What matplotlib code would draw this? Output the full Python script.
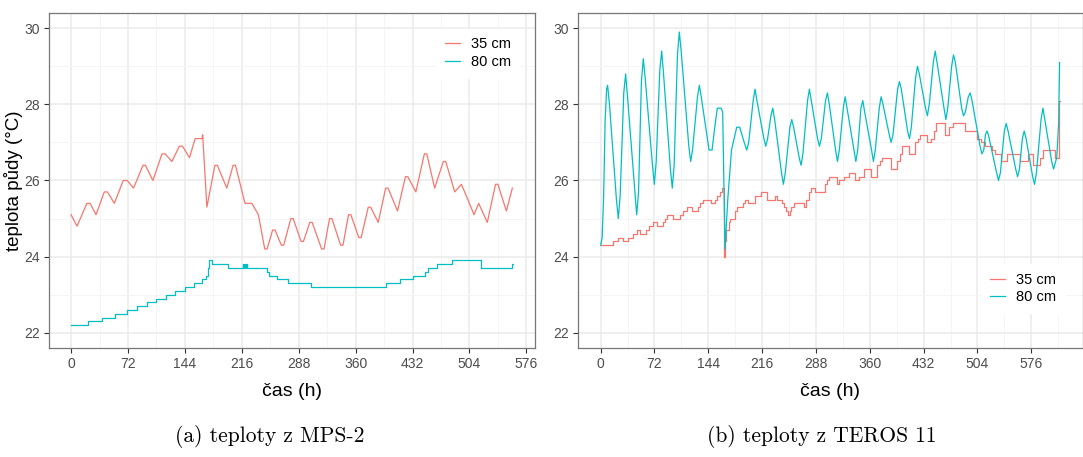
import matplotlib
matplotlib.use("Agg")
import matplotlib.pyplot as plt

plt.rcParams["font.family"] = ["Liberation Sans", "DejaVu Sans"]

RED = "#F8766D"
TEAL = "#00BFC4"

# (a) MPS-2 -- 35 cm, daily oscillation (hours, degC)
MPS_T35 = [0, 7.5, 20, 24, 31.5, 42, 46, 54.7, 66, 71, 79, 91, 94, 103.5, 115, 119,
           127.5, 137, 141, 149.8, 157, 165.6, 166.5, 171.8, 182, 185, 197, 205, 208,
           220, 228.7, 237, 245, 248, 255, 258, 266, 269, 278, 281, 291, 294, 302, 305,
           317, 320, 327, 330, 341, 344, 351, 354, 364, 367, 376, 379, 388.6, 398, 401,
           413, 423, 426, 436.2, 447, 450, 460, 471, 474, 485.4, 493.8, 502, 509.8,
           515.7, 526.6, 537, 540, 550.7, 558.3]
MPS_V35 = [25.1, 24.8, 25.4, 25.4, 25.1, 25.7, 25.7, 25.4, 26.0, 26.0, 25.8, 26.4, 26.4,
           26.0, 26.7, 26.7, 26.5, 26.9, 26.9, 26.6, 27.1, 27.1, 27.2, 25.3, 26.4, 26.4,
           25.8, 26.4, 26.4, 25.4, 25.4, 25.1, 24.2, 24.2, 24.7, 24.7, 24.3, 24.3, 25.0,
           25.0, 24.4, 24.4, 24.9, 24.9, 24.2, 24.2, 25.0, 25.0, 24.3, 24.3, 25.1, 25.1,
           24.5, 24.5, 25.3, 25.3, 24.9, 25.8, 25.8, 25.2, 26.1, 26.1, 25.7, 26.7, 26.7,
           25.8, 26.5, 26.5, 25.7, 25.9, 25.5, 25.1, 25.4, 24.9, 25.9, 25.9, 25.2, 25.8]

# (a) MPS-2 -- 80 cm, stepwise (value holds from given hour)
MPS_T80 = [0, 21.5, 39.1, 55, 70.7, 83.3, 96, 107.7, 120.4, 131.7, 143.5, 154.9, 165.4,
           171, 173, 175, 178.9, 199, 217, 218, 219, 220, 221, 222, 247.5, 251, 260.2,
           274, 303, 399, 416, 432.7, 447.5, 451.7, 463.5, 482, 518.2, 557.5, 559]
MPS_V80 = [22.2, 22.3, 22.4, 22.5, 22.6, 22.7, 22.8, 22.9, 23.0, 23.1, 23.2, 23.3, 23.4,
           23.5, 23.7, 23.9, 23.8, 23.7, 23.8, 23.7, 23.8, 23.7, 23.8, 23.7, 23.6, 23.5,
           23.4, 23.3, 23.2, 23.3, 23.4, 23.5, 23.6, 23.7, 23.8, 23.9, 23.7, 23.8, 23.8]

# (b) TEROS 11 -- 35 cm, stepwise
TER_T35 = [0, 16, 22.7, 30.3, 37, 43.7, 48, 52.6, 61, 64, 70, 76, 84, 86, 89, 97, 106,
           110.6, 116, 122, 130, 133, 137, 148, 153, 155, 159, 162, 165, 166.5, 168,
           171, 173, 180, 182, 190, 193, 197, 206, 214, 223, 233, 236, 242, 245, 248,
           250, 253, 255, 258, 272, 275, 278, 281, 287, 300, 303, 305, 316, 319, 326,
           332, 340, 346, 352, 362, 370, 373, 376, 388, 396, 400, 403, 412, 420, 424,
           427, 436, 442, 446, 449, 461, 466, 471, 474, 487, 504, 509, 514, 523, 528,
           535, 543, 561, 571, 578, 588, 592, 607, 613, 613.8]
TER_V35 = [24.3, 24.4, 24.5, 24.4, 24.5, 24.6, 24.7, 24.6, 24.7, 24.8, 24.9, 24.8, 24.9,
           25.0, 25.1, 25.0, 25.1, 25.2, 25.3, 25.2, 25.3, 25.4, 25.5, 25.4, 25.5, 25.6,
           25.7, 25.8, 24.0, 24.4, 24.7, 24.9, 25.0, 25.2, 25.3, 25.4, 25.5, 25.4, 25.6,
           25.7, 25.5, 25.6, 25.5, 25.4, 25.3, 25.2, 25.1, 25.2, 25.3, 25.4, 25.3, 25.5,
           25.7, 25.8, 25.7, 25.9, 26.0, 26.1, 25.9, 26.0, 26.1, 26.2, 26.0, 26.1, 26.3,
           26.1, 26.4, 26.5, 26.6, 26.3, 26.5, 26.7, 26.9, 26.7, 27.0, 27.1, 27.2, 27.0,
           27.1, 27.3, 27.5, 27.2, 27.4, 27.5, 27.5, 27.3, 27.1, 27.0, 26.9, 26.8, 26.7,
           26.5, 26.7, 26.5, 26.7, 26.4, 26.6, 26.8, 26.6, 28.1, 28.1]

# (b) TEROS 11 -- 80 cm, daily oscillation (with rounded tops)
TER_T80 = [0, 2, 4, 6, 8, 9.3, 11.8,
           21.1, 23.6, 26.1, 30.9, 33.4, 35.9, 45.7, 48.2, 50.7, 54.5, 57, 59.5,
           69.3, 71.8, 74.3, 79.1, 81.6, 84.1, 93.3, 95.8, 98.3, 102.7, 105.2, 107.7,
           117.9, 120.4, 122.9, 129.5, 132, 134.5, 145, 149, 152, 156, 161, 163.2, 166.3,
           170, 175, 182, 186, 192, 195.4, 198, 204, 206.5, 209, 218.3, 220.8, 223.3,
           227.7, 230.2, 232.7, 241.9, 244.4, 246.9, 253.1, 255.6, 258.1, 265.5, 268,
           270.5, 276.7, 279.2, 281.7, 290.1, 292.6, 295.1, 300.8, 303.3, 305.8, 314.2,
           316.7, 319.2, 324.5, 327, 329.5, 338.8, 341.3, 343.8, 348.1, 350.6, 353.1,
           362.3, 364.8, 367.3, 372.6, 375.1, 377.6, 386, 388.5, 391, 397.1, 399.6,
           402.1, 410.5, 413, 415.5, 421.2, 423.7, 426.2, 434.5, 437, 439.5, 444.9,
           447.4, 449.9, 459.2, 461.7, 464.2, 469.4, 471.9, 474.4, 482.8, 485.3, 487.8,
           491.7, 494.2, 496.7, 507.4, 509.9, 512.4, 514.6, 516.6, 518.6, 529.6, 532.1,
           534.6, 539.9, 542.4, 544.9, 555.1, 557.6, 560.1, 564, 566.5, 569, 577.8,
           580.3, 582.8, 589, 591.5, 594, 603.2, 605.7, 610, 612.5, 613.8]
TER_V80 = [24.3, 24.5, 25.6, 27.6, 28.4, 28.5, 28.0,
           25.5, 25.0, 25.6, 28.3, 28.8, 28.2, 25.7, 25.1, 25.7, 28.6, 29.2, 28.7,
           26.4, 25.9, 26.5, 28.9, 29.4, 28.8, 26.3, 25.8, 26.4, 29.3, 29.9, 29.4,
           26.9, 26.5, 26.8, 28.2, 28.5, 28.2, 26.8, 26.8, 27.3, 27.9, 27.9, 27.8, 24.2,
           25.5, 26.8, 27.4, 27.4, 27.0, 26.8, 27.0, 28.1, 28.4, 28.1, 27.1, 26.9, 27.1,
           27.7, 27.9, 27.6, 26.2, 25.9, 26.2, 27.4, 27.6, 27.4, 26.6, 26.4,
           26.7, 28.1, 28.4, 28.1, 27.1, 26.9, 27.1, 28.1, 28.3, 28.0, 26.8,
           26.5, 26.8, 27.9, 28.2, 27.9, 26.8, 26.5, 26.8, 27.9, 28.1, 27.8,
           26.8, 26.5, 26.8, 27.9, 28.2, 28.0, 27.2, 27.0, 27.2, 28.4, 28.6,
           28.4, 27.3, 27.1, 27.4, 28.7, 29.0, 28.8, 27.9, 27.7, 28.0, 29.1,
           29.4, 29.1, 27.9, 27.6, 27.9, 29.0, 29.3, 29.1, 27.9, 27.7, 27.8,
           28.2, 28.3, 28.1, 26.9, 26.7, 26.8, 27.2, 27.3, 27.2, 26.2, 26.0,
           26.2, 27.3, 27.5, 27.3, 26.3, 26.1, 26.3, 27.1, 27.3, 27.1, 26.1,
           25.9, 26.2, 27.6, 27.9, 27.6, 26.5, 26.3, 26.6, 27.5, 29.1]

LABELS = ["35 cm", "80 cm"]
X_TICKS = [0, 72, 144, 216, 288, 360, 432, 504, 576]
Y_TICKS = [22, 24, 26, 28, 30]
CAPTIONS = ["(a) teploty z MPS-2", "(b) teploty z TEROS 11"]


def style_axes(ax, tmax, xticks):
    pad = 0.05 * tmax
    ax.set_xlim(-pad, tmax + pad)
    ax.set_ylim(21.6, 30.4)
    ax.set_xticks(xticks)
    ax.set_yticks(Y_TICKS)
    ax.set_xticks([t + 36 for t in xticks if t + 36 < tmax + pad], minor=True)
    ax.set_yticks([23, 25, 27, 29], minor=True)
    ax.grid(True, which="major", color="#EBEBEB", lw=1.1)
    ax.grid(True, which="minor", color="#F4F4F4", lw=0.6)
    ax.set_axisbelow(True)
    ax.tick_params(which="major", direction="out", length=3.5, width=0.8,
                   color="#333333", labelcolor="#4D4D4D", labelsize=10, pad=3)
    ax.tick_params(which="minor", length=0)
    for s in ax.spines.values():
        s.set_color("#777777")
        s.set_linewidth(0.9)


def add_legend(ax, anchor):
    ax.legend(loc="upper left", bbox_to_anchor=anchor, frameon=True,
              fontsize=10.5, handlelength=1.0, handletextpad=0.75, labelspacing=0.25,
              borderpad=0.6, borderaxespad=0, fancybox=False, edgecolor="white",
              framealpha=1)


fig = plt.figure(figsize=(10.83, 4.57), dpi=100)
W, H = 1083, 457

ax1 = fig.add_axes([49 / W, 1 - 348 / H, 486 / W, 335 / H])
ax1.plot(MPS_T35, MPS_V35, color=RED, lw=0.9, label=LABELS[0])
ax1.plot(MPS_T80, MPS_V80, color=TEAL, lw=0.9, drawstyle="steps-post", label=LABELS[1])
style_axes(ax1, 559, X_TICKS)
add_legend(ax1, (0.797, 0.953))

ax2 = fig.add_axes([577.7 / W, 1 - 348 / H, 505 / W, 335 / H])
ax2.plot(TER_T35, TER_V35, color=RED, lw=0.9, drawstyle="steps-post", label=LABELS[0])
ax2.plot(TER_T80, TER_V80, color=TEAL, lw=0.9, label=LABELS[1])
style_axes(ax2, 614, X_TICKS)
add_legend(ax2, (0.8, 0.251))

fig.text(14 / W, 1 - 180.5 / H, "teplota půdy (°C)", rotation=90, ha="center",
         va="center", fontsize=13.5)
fig.text(292 / W, 1 - 392 / H, "čas (h)", ha="center", va="center", fontsize=14)
fig.text(830 / W, 1 - 392 / H, "čas (h)", ha="center", va="center", fontsize=14)

fig.text(270 / W, 1 - 437 / H, CAPTIONS[0], ha="center", va="center",
         fontsize=15.5, family="cmr10")
fig.text(822 / W, 1 - 437 / H, CAPTIONS[1], ha="center", va="center",
         fontsize=15.5, family="cmr10")

fig.savefig("out.png", dpi=100)
